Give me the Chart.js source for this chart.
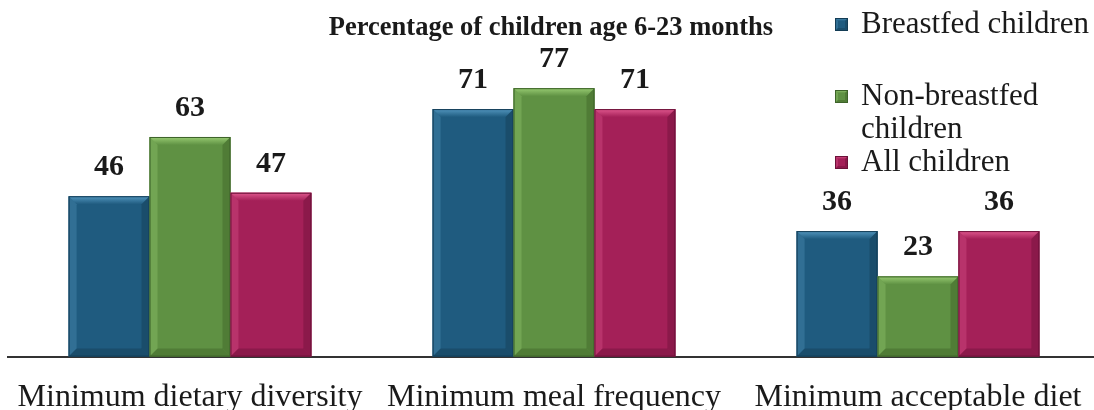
<!DOCTYPE html>
<html>
<head>
<meta charset="utf-8">
<script src="https://cdn.jsdelivr.net/npm/chart.js@4.4.1/dist/chart.umd.min.js"></script>
<style>
  html, body { margin: 0; padding: 0; background: #fff; overflow: hidden; }
  #wrap { width: 1094px; height: 410px; overflow: hidden; }
</style>
</head>
<body>
<div id="wrap"><canvas id="feeding" width="1100" height="447"></canvas></div>
<script>
const categories = ['Minimum dietary diversity', 'Minimum meal frequency', 'Minimum acceptable diet'];
const breastfed = [46, 71, 36];
const nonBreastfed = [63, 77, 23];
const allChildren = [47, 71, 36];
const seriesNames = ['Breastfed children', 'Non-breastfed\nchildren', 'All children'];
const chartTitle = 'Percentage of children age 6-23 months';

const SERIF = '"Liberation Serif", "Times New Roman", serif';
// face, light bevel, dark bevel
const palette = [
    ['#1f5b7f', '#5296be', '#133c55'],
    ['#5f9143', '#98cb72', '#3d6329'],
    ['#a42058', '#e0588e', '#6c1239'],
];

function bevelBox(ctx, l, t, r, b, cols, d) {
    ctx.save();
    ctx.fillStyle = cols[0];
    ctx.fillRect(l, t, r - l, b - t);
    // top edge
    const g = ctx.createLinearGradient(0, t, 0, t + d);
    g.addColorStop(0, cols[1]);
    g.addColorStop(1, cols[0]);
    ctx.fillStyle = g;
    ctx.beginPath();
    ctx.moveTo(l, t); ctx.lineTo(r, t); ctx.lineTo(r - d, t + d); ctx.lineTo(l + d, t + d);
    ctx.closePath(); ctx.fill();
    // left edge
    ctx.globalAlpha = 0.35;
    ctx.fillStyle = cols[1];
    ctx.beginPath();
    ctx.moveTo(l, t); ctx.lineTo(l + d, t + d); ctx.lineTo(l + d, b - d); ctx.lineTo(l, b);
    ctx.closePath(); ctx.fill();
    // right and bottom edges
    ctx.globalAlpha = 0.45;
    ctx.fillStyle = cols[2];
    ctx.beginPath();
    ctx.moveTo(r, t); ctx.lineTo(r, b); ctx.lineTo(r - d, b - d); ctx.lineTo(r - d, t + d);
    ctx.closePath(); ctx.fill();
    ctx.beginPath();
    ctx.moveTo(l, b); ctx.lineTo(r, b); ctx.lineTo(r - d, b - d); ctx.lineTo(l + d, b - d);
    ctx.closePath(); ctx.fill();
    ctx.globalAlpha = 1;
    ctx.strokeStyle = cols[2];
    ctx.lineWidth = 1;
    ctx.strokeRect(l + 0.5, t + 0.5, r - l - 1, b - t - 1);
    ctx.restore();
}

const bevelBars = {
    id: 'bevelBars',
    afterDatasetsDraw(chart) {
        const ctx = chart.ctx;
        chart.data.datasets.forEach((ds, i) => {
            chart.getDatasetMeta(i).data.forEach((bar, j) => {
                const p = bar.getProps(['x', 'y', 'base', 'width'], true);
                bevelBox(ctx, p.x - p.width / 2, p.y, p.x + p.width / 2, p.base, palette[i], 8);
                ctx.save();
                ctx.fillStyle = '#1a1a1a';
                ctx.font = 'bold 30px ' + SERIF;
                ctx.textAlign = 'center';
                ctx.textBaseline = 'middle';
                ctx.fillText(ds.data[j], p.x, p.y - 29);
                ctx.restore();
            });
        });
    }
};

const sideLegend = {
    id: 'sideLegend',
    afterDraw(chart) {
        const ctx = chart.ctx;
        ctx.save();
        ctx.fillStyle = '#1a1a1a';
        ctx.font = 'bold 26.5px ' + SERIF;
        ctx.textAlign = 'center';
        ctx.textBaseline = 'middle';
        ctx.fillText(chartTitle, 551, 28);

        ctx.font = '31px ' + SERIF;
        ctx.textAlign = 'left';
        const rows = [25, 97, 163];
        chart.data.datasets.forEach((ds, i) => {
            const y = rows[i];
            bevelBox(ctx, 835, y - 7, 848, y + 6, palette[i], 3);
            ctx.fillStyle = '#1a1a1a';
            ds.label.split('\n').forEach((line, k) => {
                ctx.fillText(line, 861, y + k * 33);
            });
        });
        ctx.restore();
    }
};

const palettes = palette.map(c => c[0]);
new Chart(document.getElementById('feeding'), {
    type: 'bar',
    data: {
        labels: categories,
        datasets: [
            {label: seriesNames[0], data: breastfed, backgroundColor: palettes[0]},
            {label: seriesNames[1], data: nonBreastfed, backgroundColor: palettes[1]},
            {label: seriesNames[2], data: allChildren, backgroundColor: palettes[2]},
        ]
    },
    options: {
        responsive: false,
        animation: false,
        layout: {padding: {left: 8, right: 0, top: 8, bottom: 8}},
        datasets: {bar: {barPercentage: 1, categoryPercentage: 0.667}},
        plugins: {legend: {display: false}, tooltip: {enabled: false}},
        scales: {
            x: {
                grid: {display: false, drawTicks: false},
                border: {display: true, color: '#333', width: 2},
                ticks: {color: '#1a1a1a', padding: 22, font: {family: SERIF, size: 32}},
                // long category names may spill past the plot edges
                afterFit(scale) {
                    scale.paddingLeft = 0;
                    scale.paddingRight = 0;
                }
            },
            y: {display: false, min: 0, max: 100}
        }
    },
    plugins: [bevelBars, sideLegend]
});
</script>
</body>
</html>
